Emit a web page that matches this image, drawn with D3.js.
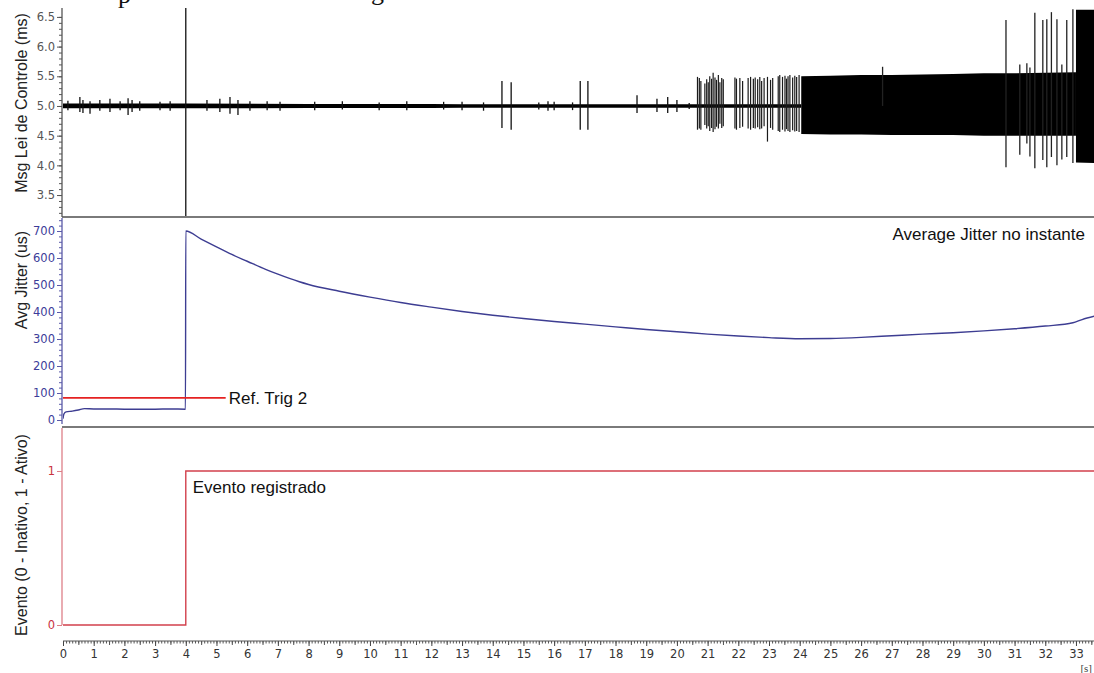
<!DOCTYPE html>
<html>
<head>
<meta charset="utf-8">
<script src="https://cdn.jsdelivr.net/npm/d3@7"></script>
<style>
  body { margin: 0; background: #fff; }
  svg { display: block; }
</style>
</head>
<body>
<svg id="chart" width="1094" height="673"></svg>
<script>
// ---- Time axis (seconds) ----
const timeTicks = d3.range(0, 34);

// ---- Panel 1: control-law message period (ms) ----
const msgTicks = [3.5, 4.0, 4.5, 5.0, 5.5, 6.0, 6.5];
// quiet baseline envelope around 5 ms
const baseT  = [0,    4,    8,     12,    13,    20,    24.05];
const baseHi = [5.04, 5.04, 5.035, 5.035, 5.028, 5.028, 5.028];
const baseLo = [4.96, 4.96, 4.965, 4.965, 4.972, 4.972, 4.972];
// saturated jitter band
const denseT  = [24.05, 25,   26,   27,   28,   29,   30,   31,   32,   33.0];
const denseHi = [5.50,  5.51, 5.52, 5.52, 5.53, 5.54, 5.55, 5.55, 5.56, 5.57];
const denseLo = [4.53,  4.52, 4.52, 4.51, 4.51, 4.51, 4.50, 4.50, 4.50, 4.50];
const finalT  = [33.0, 33.62];
const finalHi = [6.62, 6.62];
const finalLo = [4.05, 4.04];
// isolated spikes [t, max, min]
const quietSpikes = [
  [0.16,5.09,4.93],[0.55,5.15,4.90],[0.65,5.10,4.88],[0.88,5.08,4.87],[1.20,5.10,4.92],
  [1.53,5.12,4.90],[1.86,5.08,4.93],[2.12,5.13,4.85],[2.25,5.10,4.90],[2.50,5.08,4.92],
  [3.16,5.07,4.93],[3.49,5.08,4.92],[4.00,6.70,3.05],[4.69,5.10,4.92],[5.11,5.12,4.90],
  [5.44,5.15,4.87],[5.70,5.10,4.85],[6.09,5.08,4.92],[6.65,5.08,4.93],[7.07,5.07,4.92],
  [8.20,5.07,4.93],[9.10,5.08,4.94],[10.30,5.06,4.93],[11.20,5.08,4.93],[12.40,5.07,4.94],
  [13.00,5.07,4.93],[13.70,5.06,4.92],[14.30,5.42,4.63],[14.60,5.40,4.60],[15.50,5.06,4.94],
  [15.80,5.08,4.92],[16.00,5.07,4.93],[16.60,5.06,4.93],[16.85,5.42,4.60],[17.10,5.42,4.60],
  [18.70,5.18,4.88],[19.35,5.12,4.90],[19.70,5.15,4.88],[20.00,5.10,4.90],[20.40,5.05,4.95]
];
const burstSpikes = [
  [20.67,5.49,4.60],[20.73,5.47,4.62],[20.78,5.42,4.60],[20.91,5.38,4.68],[20.97,5.45,4.62],
  [21.02,5.40,4.66],[21.07,5.50,4.58],[21.13,5.46,4.63],[21.18,5.56,4.56],[21.24,5.48,4.61],
  [21.29,5.44,4.65],[21.35,5.52,4.62],[21.40,5.40,4.70],[21.46,5.47,4.63],[21.51,5.45,4.66],
  [21.89,5.48,4.62],[21.94,5.46,4.60],[22.05,5.47,4.63],[22.14,5.42,4.65],[22.32,5.47,4.62],
  [22.40,5.49,4.60],[22.49,5.46,4.63],[22.55,5.48,4.62],[22.63,5.45,4.64],[22.70,5.49,4.61],
  [22.76,5.42,4.62],[22.84,5.47,4.66],[22.95,5.49,4.40],[23.05,5.44,4.63],[23.12,5.47,4.60],
  [23.30,5.50,4.58],[23.35,5.52,4.56],[23.44,5.49,4.60],[23.52,5.51,4.57],[23.57,5.46,4.61],
  [23.62,5.50,4.58],[23.68,5.52,4.56],[23.77,5.48,4.59],[23.84,5.51,4.57],[23.90,5.49,4.58],
  [23.98,5.52,4.56]
];
const lateSpikes = [
  [26.70,5.66,5.00],[30.72,6.45,3.97],[31.17,5.70,4.18],[31.40,5.72,4.37],[31.50,5.65,4.15],
  [31.66,6.57,3.95],[31.92,6.45,4.09],[32.05,6.46,3.97],[32.20,6.58,4.14],[32.38,6.46,4.00],
  [32.54,5.70,4.10],[32.70,6.45,4.14],[32.90,6.63,4.04]
];

// ---- Panel 2: average jitter (us) ----
const jitterTicks = [0, 100, 200, 300, 400, 500, 600, 700];
const jitterT = [0, 0.03, 0.1, 0.3, 0.5, 0.7, 1, 1.5, 2, 2.5, 3, 3.5, 3.99, 4.0, 4.5, 5, 5.5, 6,
                 6.6, 7, 7.7, 8, 9, 10, 11, 12, 13, 14, 15, 16, 17, 18, 19, 20, 21, 22, 23, 24,
                 25, 26, 27, 28, 29, 30, 31, 32, 32.9, 33.2, 33.62];
const jitterV = [5, 22, 30, 33, 37, 42, 41, 41, 40, 40, 40, 41, 40, 700, 670, 641, 613, 588,
                 558, 540, 512, 502, 477, 455, 435, 418, 402, 388, 376, 365, 355, 345, 335, 327,
                 318, 311, 305, 301, 302, 306, 312, 318, 323, 330, 338, 348, 360, 372, 385];
const refTrigValue = 82;
const refTrigEnd = 5.3;

// ---- Panel 3: event flag ----
const eventTicks = [0, 1];
const eventT = [0, 4, 33.62];
const eventV = [0, 1, 1];

// ---- Scales ----
const svg = d3.select('#chart');
const x = d3.scaleLinear().domain([0, 33.62]).range([63, 1095]);
const yMsg = d3.scaleLinear().domain([3.13, 6.65]).range([217, 8]);
const yJit = d3.scaleLinear().domain([0, 700]).range([420, 231]);
const yEvt = d3.scaleLinear().domain([0, 1]).range([625, 471]);

const tickFont = '"DejaVu Sans", Verdana, sans-serif';
const labelFont = '"Liberation Sans", Arial, sans-serif';

// clipping for each panel
const defs = svg.append('defs');
[['clipMsg', 8, 217], ['clipJit', 218, 427], ['clipEvt', 428, 634]].forEach(([id, y0, y1]) => {
  defs.append('clipPath').attr('id', id)
    .append('rect').attr('x', 63).attr('y', y0).attr('width', 1094 - 63).attr('height', y1 - y0);
});

// fragment of the caption line above the figure
svg.append('text').attr('x', 118).attr('y', 3)
  .attr('font-family', '"Liberation Serif", "Times New Roman", serif').attr('font-size', 26)
  .attr('fill', '#111').text('p');
svg.append('text').attr('x', 371).attr('y', 0)
  .attr('font-family', '"Liberation Serif", "Times New Roman", serif').attr('font-size', 26)
  .attr('fill', '#111').text('g');

// ---- Panel 1 marks ----
const gMsg = svg.append('g').attr('clip-path', 'url(#clipMsg)');
function band(ts, hi, lo) {
  return d3.area().x((d, i) => x(ts[i])).y0((d, i) => yMsg(lo[i])).y1((d, i) => yMsg(hi[i]))(ts);
}
gMsg.append('path').attr('d', band(baseT, baseHi, baseLo)).attr('fill', '#000');
gMsg.append('path').attr('d', band(denseT, denseHi, denseLo)).attr('fill', '#000');
gMsg.append('path').attr('d', band(finalT, finalHi, finalLo)).attr('fill', '#000');
function spikes(list, w, color) {
  gMsg.append('g').selectAll('line').data(list).join('line')
    .attr('x1', d => x(d[0])).attr('x2', d => x(d[0]))
    .attr('y1', d => yMsg(d[1])).attr('y2', d => yMsg(d[2]))
    .attr('stroke', color).attr('stroke-width', w);
}
spikes(quietSpikes, 1.3, '#111');
spikes(burstSpikes, 1.2, '#1a1a1a');
spikes(lateSpikes, 1.3, '#222');

// ---- Panel 2 marks ----
const gJit = svg.append('g').attr('clip-path', 'url(#clipJit)');
gJit.append('path')
  .attr('d', d3.line().curve(d3.curveMonotoneX).x((d, i) => x(jitterT[i])).y(d => yJit(d))(jitterV))
  .attr('fill', 'none').attr('stroke', '#3d3d92').attr('stroke-width', 1.4);
gJit.append('line')
  .attr('x1', x(0)).attr('x2', x(refTrigEnd))
  .attr('y1', yJit(refTrigValue)).attr('y2', yJit(refTrigValue))
  .attr('stroke', '#e52222').attr('stroke-width', 1.6);

// ---- Panel 3 marks ----
const gEvt = svg.append('g').attr('clip-path', 'url(#clipEvt)');
gEvt.append('path')
  .attr('d', d3.line().curve(d3.curveStepAfter).x((d, i) => x(eventT[i])).y(d => yEvt(d))(eventV))
  .attr('fill', 'none').attr('stroke', '#d2404c').attr('stroke-width', 1.4);

// ---- Panel separators ----
[217, 427].forEach(yy => {
  svg.append('line').attr('x1', 62).attr('x2', 1094).attr('y1', yy).attr('y2', yy)
    .attr('stroke', '#7a7a7a').attr('stroke-width', 2);
});

// ---- Y axes ----
function yAxis(scale, ticks, minor, color, lineColor, fmt, y0, y1) {
  const g = svg.append('g').attr('transform', 'translate(62,0)');
  if (minor) {
    g.append('g').call(d3.axisLeft(scale).tickValues(minor).tickSize(3).tickFormat(''))
      .call(s => s.select('.domain').remove())
      .call(s => s.selectAll('line').attr('stroke', lineColor));
  }
  g.append('g').call(d3.axisLeft(scale).tickValues(ticks).tickSize(5).tickPadding(2).tickFormat(fmt))
    .call(s => s.select('.domain').remove())
    .call(s => s.selectAll('line').attr('stroke', lineColor))
    .call(s => s.selectAll('text').attr('fill', color)
      .attr('font-family', tickFont).attr('font-size', 11.5));
  g.append('line').attr('x1', 0).attr('x2', 0).attr('y1', y0).attr('y2', y1)
    .attr('stroke', lineColor).attr('stroke-width', 1.3);
}
yAxis(yMsg, msgTicks, d3.range(32, 66).map(v => v / 10), '#555', '#555', d3.format('.1f'), 8, 217);
yAxis(yJit, jitterTicks, d3.range(0, 760, 20), '#3c3c99', '#5a5aa8', d3.format('d'), 218, 424);
yAxis(yEvt, eventTicks, null, '#c8323f', '#dd7f88', d3.format('d'), 428, 625);

// ---- Time ruler ----
const gx = svg.append('g').attr('transform', 'translate(0,641)');
gx.append('g').call(d3.axisBottom(x).tickValues(d3.range(0, 336).map(v => v / 10)).tickSize(2.5).tickFormat(''))
  .call(s => s.select('.domain').remove())
  .call(s => s.selectAll('line').attr('stroke', '#555'));
gx.append('g').call(d3.axisBottom(x).tickValues(d3.range(0, 34).map(v => v + 0.5)).tickSize(4).tickFormat(''))
  .call(s => s.select('.domain').remove())
  .call(s => s.selectAll('line').attr('stroke', '#555'));
gx.append('g').call(d3.axisBottom(x).tickValues(timeTicks).tickSize(5).tickPadding(4).tickFormat(d3.format('d')))
  .call(s => s.select('.domain').remove())
  .call(s => s.selectAll('line').attr('stroke', '#444'))
  .call(s => s.selectAll('text').attr('fill', '#333')
    .attr('font-family', tickFont).attr('font-size', 11.5));
gx.append('line').attr('x1', 63).attr('x2', 1094).attr('y1', 0).attr('y2', 0)
  .attr('stroke', '#555').attr('stroke-width', 1);
svg.append('text').attr('x', 1092).attr('y', 672).attr('text-anchor', 'end')
  .attr('font-family', '"Liberation Serif", serif').attr('font-size', 11).attr('fill', '#444')
  .text('[s]');

// ---- Axis titles ----
function yTitle(text, cy) {
  svg.append('text').attr('transform', `translate(27,${cy}) rotate(-90)`)
    .attr('text-anchor', 'middle').attr('font-family', labelFont).attr('font-size', 16)
    .attr('fill', '#222').text(text);
}
yTitle('Msg Lei de Controle (ms)', 103);
yTitle('Avg Jitter (us)', 280);
yTitle('Evento (0 - Inativo, 1 - Ativo)', 535);

// ---- Annotations ----
function note(text, xx, yy, anchor) {
  svg.append('text').attr('x', xx).attr('y', yy).attr('text-anchor', anchor || 'start')
    .attr('font-family', labelFont).attr('font-size', 17).attr('fill', '#111').text(text);
}
note('Average Jitter no instante', 1085, 240, 'end');
note('Ref. Trig 2', x(refTrigEnd) + 3, yJit(refTrigValue) + 6);
note('Evento registrado', x(4) + 7, 493);
</script>
</body>
</html>
